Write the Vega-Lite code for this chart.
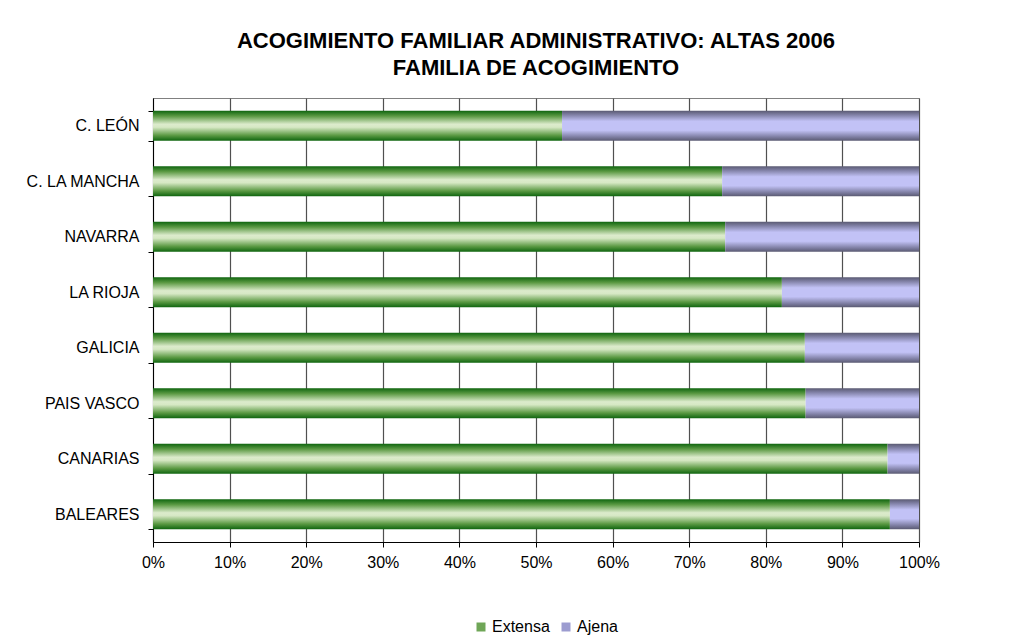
{
  "$schema": "https://vega.github.io/schema/vega-lite/v6.json",
  "width": 766,
  "height": 444,
  "autosize": {"type": "none"},
  "padding": {"left": 153, "top": 98, "right": 113, "bottom": 97},
  "background": "white",
  "title": {
    "text": ["ACOGIMIENTO FAMILIAR ADMINISTRATIVO: ALTAS 2006", "FAMILIA DE ACOGIMIENTO"],
    "fontSize": 22,
    "fontWeight": "bold",
    "font": "Liberation Sans",
    "color": "black",
    "anchor": "middle",
    "lineHeight": 27,
    "offset": 10
  },
  "data": {
    "values": [
      {"region": "C. LEÓN", "tipo": "Extensa", "pct": 0.534},
      {"region": "C. LEÓN", "tipo": "Ajena", "pct": 0.466},
      {"region": "C. LA MANCHA", "tipo": "Extensa", "pct": 0.743},
      {"region": "C. LA MANCHA", "tipo": "Ajena", "pct": 0.257},
      {"region": "NAVARRA", "tipo": "Extensa", "pct": 0.747},
      {"region": "NAVARRA", "tipo": "Ajena", "pct": 0.253},
      {"region": "LA RIOJA", "tipo": "Extensa", "pct": 0.821},
      {"region": "LA RIOJA", "tipo": "Ajena", "pct": 0.179},
      {"region": "GALICIA", "tipo": "Extensa", "pct": 0.851},
      {"region": "GALICIA", "tipo": "Ajena", "pct": 0.149},
      {"region": "PAIS VASCO", "tipo": "Extensa", "pct": 0.852},
      {"region": "PAIS VASCO", "tipo": "Ajena", "pct": 0.148},
      {"region": "CANARIAS", "tipo": "Extensa", "pct": 0.959},
      {"region": "CANARIAS", "tipo": "Ajena", "pct": 0.041},
      {"region": "BALEARES", "tipo": "Extensa", "pct": 0.962},
      {"region": "BALEARES", "tipo": "Ajena", "pct": 0.038}
    ]
  },
  "encoding": {
    "y": {
      "field": "region",
      "type": "nominal",
      "sort": ["C. LEÓN", "C. LA MANCHA", "NAVARRA", "LA RIOJA", "GALICIA", "PAIS VASCO", "CANARIAS", "BALEARES"],
      "scale": {"paddingInner": 0.46, "paddingOuter": 0.23},
      "axis": {
        "title": null,
        "tickBand": "extent",
        "tickSize": 5,
        "tickColor": "black",
        "domainColor": "black",
        "labelFontSize": 16,
        "labelPadding": 9,
        "labelColor": "black",
        "grid": false
      }
    },
    "x": {
      "field": "pct",
      "type": "quantitative",
      "stack": "zero",
      "scale": {"domain": [0, 1], "nice": false},
      "axis": {
        "title": null,
        "values": [0, 0.1, 0.2, 0.3, 0.4, 0.5, 0.6, 0.7, 0.8, 0.9, 1],
        "format": ".0%",
        "grid": true,
        "gridColor": "#505050",
        "gridWidth": 1.2,
        "tickSize": 5,
        "tickColor": "black",
        "domainColor": "black",
        "labelFontSize": 16,
        "labelPadding": 7,
        "labelColor": "black",
        "labelFlush": false
      }
    },
    "order": {"field": "tipo", "sort": "descending"}
  },
  "layer": [
    {
      "mark": {"type": "bar", "stroke": null, "opacity": 0},
      "encoding": {
        "color": {
          "field": "tipo",
          "type": "nominal",
          "scale": {"domain": ["Extensa", "Ajena"], "range": ["#6fa657", "#9c9cd0"]},
          "legend": {
            "title": null,
            "orient": "none",
            "direction": "horizontal",
            "legendX": 320,
            "legendY": 521,
            "symbolType": "square",
            "symbolSize": 81,
            "symbolStrokeWidth": 0,
            "symbolOpacity": 1,
            "labelFontSize": 16,
            "labelColor": "black",
            "columnPadding": 8,
            "labelOffset": 3,
            "encode": {
              "symbols": {
                "update": {
                  "fill": {"signal": "datum.value === 'Extensa' ? {gradient: 'linear', x1: 0, y1: 0, x2: 0, y2: 1, stops: [{offset: 0, color: '#0f650f'}, {offset: 0.5, color: '#dcebcc'}, {offset: 1, color: '#0f650f'}]} : {gradient: 'linear', x1: 0, y1: 0, x2: 0, y2: 1, stops: [{offset: 0, color: '#5a5a72'}, {offset: 0.5, color: '#c8c8ff'}, {offset: 1, color: '#5a5a72'}]}"}
                }
              }
            }
          }
        }
      }
    },
    {
      "mark": {
        "type": "bar",
        "stroke": null,
        "fill": {"expr": "datum.tipo === 'Extensa' ? {gradient: 'linear', x1: 0, y1: 0, x2: 0, y2: 1, stops: [{offset: 0, color: '#0f650f'}, {offset: 0.18, color: '#5c9a44'}, {offset: 0.45, color: '#dcebcc'}, {offset: 0.55, color: '#d6e8c4'}, {offset: 0.82, color: '#5c9a44'}, {offset: 1, color: '#0f650f'}]} : {gradient: 'linear', x1: 0, y1: 0, x2: 0, y2: 1, stops: [{offset: 0, color: '#5a5a72'}, {offset: 0.12, color: '#7c7ca0'}, {offset: 0.35, color: '#c2c2f6'}, {offset: 0.65, color: '#c2c2f6'}, {offset: 0.88, color: '#7c7ca0'}, {offset: 1, color: '#5a5a72'}]}"}
      },
      "encoding": {
        "detail": {"field": "tipo", "type": "nominal"}
      }
    }
  ],
  "config": {
    "font": "Liberation Sans",
    "view": {"stroke": "#808080", "strokeWidth": 1},
    "axis": {"labelFont": "Liberation Sans"},
    "legend": {"labelFont": "Liberation Sans"}
  }
}
